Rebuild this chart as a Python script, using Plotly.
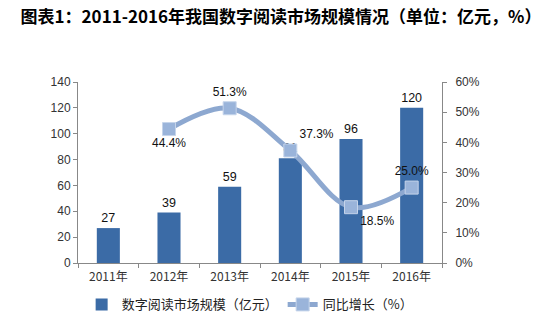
import plotly.graph_objects as go

years = ["2011年", "2012年", "2013年", "2014年", "2015年", "2016年"]
market_size = [27, 39, 59, 81, 96, 120]
growth_years = ["2012年", "2013年", "2014年", "2015年", "2016年"]
growth = [0.444, 0.513, 0.373, 0.185, 0.250]
growth_labels = ["44.4%", "51.3%", "37.3%", "18.5%", "25.0%"]
growth_label_pos = ["bottom center", "top center", "top right", "bottom right", "top center"]

title_text = "图表1：2011-2016年我国数字阅读市场规模情况（单位：亿元，%）"
bar_name = "数字阅读市场规模（亿元）"
line_name = "同比增长（%）"

axis_font = dict(family="Liberation Sans, Arial, sans-serif", size=12, color="#333333")
cjk = "Noto Sans CJK SC, sans-serif"

fig = go.Figure()
fig.add_trace(go.Bar(
    x=years, y=market_size, name=bar_name,
    marker=dict(color="#3B6BA6", line=dict(width=0)),
    width=0.38,
    text=[str(v) for v in market_size], textposition="outside",
    textfont=dict(family="Liberation Sans, Arial, sans-serif", size=12.5, color="#111111"),
    cliponaxis=False,
))
fig.add_trace(go.Scatter(
    x=growth_years, y=growth, name=line_name, yaxis="y2",
    mode="lines+markers+text",
    line=dict(color="#8DA8D0", width=5, shape="spline", smoothing=1.0),
    marker=dict(symbol="square", size=13, color="#9AB4DA", line=dict(color="#C5D4EA", width=1)),
    text=growth_labels, textposition=growth_label_pos,
    textfont=dict(family="Liberation Sans, Arial, sans-serif", size=12, color="#111111"),
    cliponaxis=False,
))

fig.update_layout(
    width=541, height=331,
    margin=dict(l=78, r=99, t=82, b=61),
    paper_bgcolor="white", plot_bgcolor="white",
    title=dict(text="<b>" + title_text + "</b>", xref="container", yref="container",
               x=0.038, xanchor="left", y=0.948, yanchor="middle",
               font=dict(family=cjk, size=17, color="#000000")),
    xaxis=dict(type="category", categoryorder="array", categoryarray=years,
               showline=True, linecolor="#888888", linewidth=1,
               ticks="outside", tickson="boundaries", ticklen=4, tickcolor="#888888",
               tickfont=dict(family=cjk, size=12, color="#333333"),
               showgrid=False, ticklabelstandoff=3),
    yaxis=dict(range=[0, 140], dtick=20, showline=True, linecolor="#888888",
               ticks="outside", ticklen=4, tickcolor="#888888",
               tickfont=axis_font, showgrid=False, zeroline=False),
    yaxis2=dict(range=[0, 0.6], dtick=0.1, tickformat=".0%", overlaying="y", side="right",
                showline=True, linecolor="#888888", ticks="outside", ticklen=4,
                tickcolor="#888888", tickfont=axis_font, showgrid=False, zeroline=False,
                ticklabelstandoff=6),
    showlegend=True,
    legend=dict(orientation="h", x=0.01, xanchor="left", y=-0.229, yanchor="middle",
                font=dict(family=cjk, size=13, color="#222222"),
                itemwidth=30, traceorder="normal"),
    bargap=0.62,
)

fig.write_html("out.html")
